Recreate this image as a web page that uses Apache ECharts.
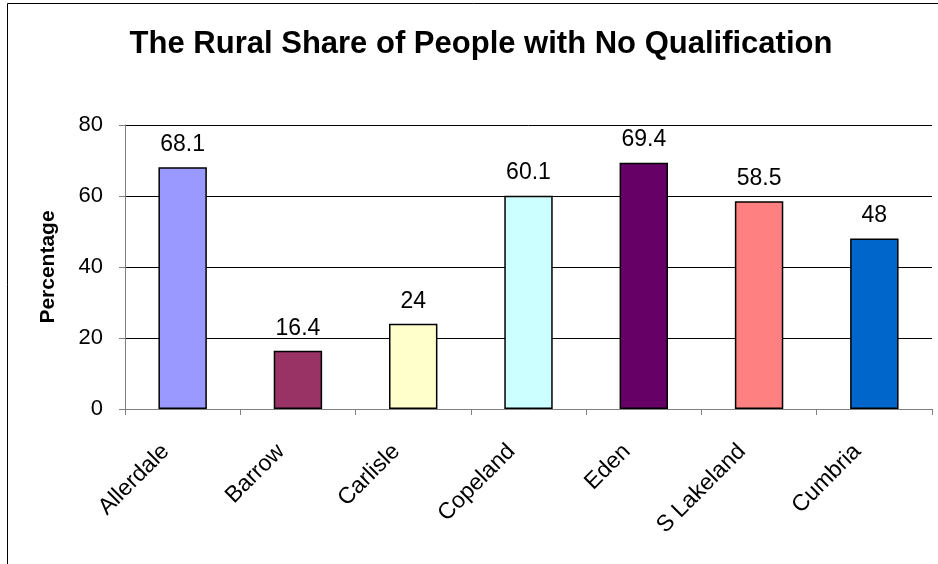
<!DOCTYPE html>
<html><head><meta charset="utf-8">
<script src="https://cdn.jsdelivr.net/npm/echarts@6/dist/echarts.min.js"></script>
<style>html,body{margin:0;padding:0;background:#fff}#c{width:938px;height:564px}</style>
</head><body><div id="c"></div>
<script>
const categories = ['Allerdale','Barrow','Carlisle','Copeland','Eden','S Lakeland','Cumbria'];
const values = [68.1, 16.4, 24, 60.1, 69.4, 58.5, 48];
const barColors = ['#9999FF','#993366','#FFFFCC','#CCFFFF','#660066','#FF8080','#0066CC'];
const yTicks = [0, 20, 40, 60, 80];
const titleText = 'The Rural Share of People with No Qualification';
const yName = 'Percentage';

const font = '"Liberation Sans", Arial, sans-serif';
const chart = echarts.init(document.getElementById('c'), null, {renderer:'canvas'});
chart.setOption({
  animation: false,
  backgroundColor: '#fff',
  graphic: [{type:'rect', shape:{x:7.5, y:3.5, width:1200, height:1200}, style:{fill:'none', stroke:'#000', lineWidth:1}, silent:true}],
  title: {text:titleText, left:476, top:24, textAlign:'center',
    textStyle:{fontFamily:font, fontWeight:'bold', fontSize:31, color:'#000'}},
  grid: {left:125, right:6, top:125, bottom:155},
  xAxis: {type:'category', data:categories,
    axisLine:{lineStyle:{color:'#808080', width:1}},
    axisTick:{show:true, length:6, lineStyle:{color:'#808080'}},
    axisLabel:{rotate:45, interval:0, margin:22, padding:[0,24,0,0], fontFamily:font, fontSize:23, color:'#000'}},
  yAxis: {type:'value', min:yTicks[0], max:yTicks[yTicks.length-1], interval:20,
    name:yName, nameLocation:'middle', nameGap:66, nameRotate:90,
    nameTextStyle:{fontFamily:font, fontWeight:'bold', fontSize:21, color:'#000'},
    axisLine:{show:true, lineStyle:{color:'#808080'}},
    axisTick:{show:true, length:6, lineStyle:{color:'#808080'}},
    axisLabel:{margin:22, fontFamily:font, fontSize:22, color:'#000'},
    splitLine:{show:true, lineStyle:{color:'#000', width:1}}},
  series: [{type:'bar', barWidth:'42%',
    data: values.map((v,i)=>({value:v, itemStyle:{color:barColors[i], borderColor:'#000', borderWidth:1.5}})),
    label:{show:true, position:'top', distance:11, fontFamily:font, fontSize:23, color:'#000'}}]
});
</script></body></html>
